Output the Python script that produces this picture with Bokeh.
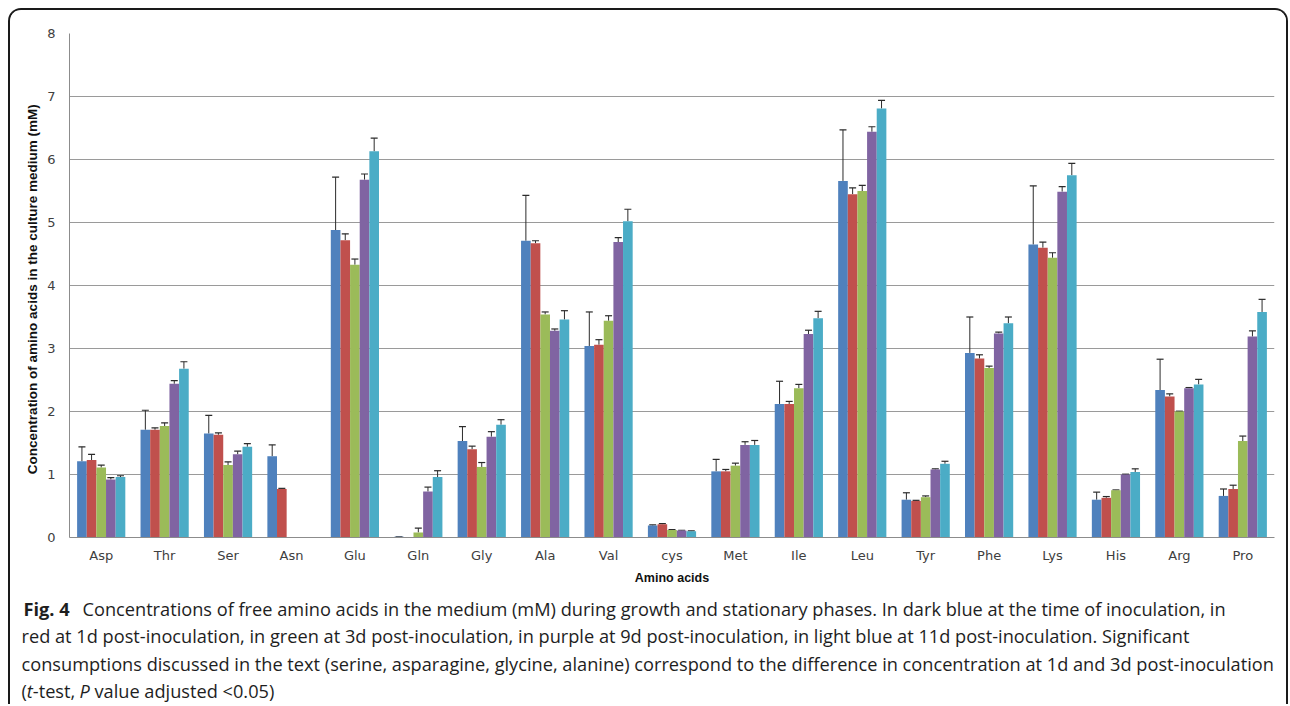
from bokeh.plotting import figure
from bokeh.models import Range1d, FixedTicker, Whisker, ColumnDataSource, TeeHead
from bokeh.layouts import column
from bokeh.embed import file_html
from bokeh.resources import INLINE
from bokeh.core.properties import value

# ---------------- data ----------------
amino_acids = ["Asp", "Thr", "Ser", "Asn", "Glu", "Gln", "Gly", "Ala", "Val", "cys",
               "Met", "Ile", "Leu", "Tyr", "Phe", "Lys", "His", "Arg", "Pro"]
series_names = ["Inoculation", "1d", "3d", "9d", "11d"]
colors = ["#4F81BD", "#C0504D", "#9BBB59", "#8064A2", "#4BACC6"]

inoc = [1.21, 1.71, 1.65, 1.29, 4.88, 0.01, 1.53, 4.71, 3.04, 0.19,
        1.05, 2.12, 5.66, 0.60, 2.93, 4.65, 0.60, 2.34, 0.66]
inoc_err = [0.23, 0.31, 0.29, 0.18, 0.84, 0.00, 0.23, 0.72, 0.54, 0.01,
            0.19, 0.36, 0.81, 0.11, 0.57, 0.93, 0.12, 0.49, 0.11]
d1 = [1.23, 1.71, 1.63, 0.77, 4.72, 0.00, 1.40, 4.67, 3.06, 0.21,
      1.05, 2.12, 5.45, 0.58, 2.84, 4.60, 0.63, 2.24, 0.77]
d1_err = [0.09, 0.03, 0.03, 0.01, 0.10, 0.00, 0.05, 0.04, 0.08, 0.01,
          0.03, 0.04, 0.10, 0.01, 0.06, 0.09, 0.02, 0.04, 0.06]
d3 = [1.11, 1.77, 1.15, 0.00, 4.33, 0.08, 1.12, 3.54, 3.44, 0.12,
      1.14, 2.37, 5.50, 0.64, 2.69, 4.44, 0.75, 2.00, 1.53]
d3_err = [0.04, 0.05, 0.05, 0.00, 0.09, 0.07, 0.07, 0.04, 0.08, 0.005,
          0.04, 0.06, 0.09, 0.02, 0.03, 0.08, 0.005, 0.005, 0.08]
d9 = [0.92, 2.44, 1.32, 0.00, 5.68, 0.73, 1.60, 3.28, 4.69, 0.11,
      1.47, 3.23, 6.44, 1.08, 3.24, 5.49, 1.00, 2.37, 3.19]
d9_err = [0.03, 0.05, 0.05, 0.00, 0.09, 0.07, 0.08, 0.03, 0.07, 0.005,
          0.05, 0.06, 0.08, 0.01, 0.02, 0.08, 0.005, 0.01, 0.09]
d11 = [0.96, 2.68, 1.44, 0.00, 6.13, 0.96, 1.79, 3.46, 5.02, 0.10,
       1.47, 3.48, 6.81, 1.17, 3.40, 5.75, 1.04, 2.43, 3.58]
d11_err = [0.02, 0.11, 0.05, 0.00, 0.21, 0.10, 0.08, 0.14, 0.19, 0.005,
           0.07, 0.11, 0.13, 0.04, 0.10, 0.19, 0.05, 0.08, 0.20]

means = [inoc, d1, d3, d9, d11]
errs = [inoc_err, d1_err, d3_err, d9_err, d11_err]
y_ticks = [0, 1, 2, 3, 4, 5, 6, 7, 8]

caption_lines = [
    "Concentrations of free amino acids in the medium (mM) during growth and stationary phases. In dark blue at the time of inoculation, in",
    "red at 1d post-inoculation, in green at 3d post-inoculation, in purple at 9d post-inoculation, in light blue at 11d post-inoculation. Significant",
    "consumptions discussed in the text (serine, asparagine, glycine, alanine) correspond to the difference in concentration at 1d and 3d post-inoculation",
]

# ---------------- chart ----------------
W = 1276
n = len(amino_acids)
bar_w = 0.152

p = figure(width=W, height=583, output_backend="svg", toolbar_location=None,
           x_range=Range1d(0, n), y_range=Range1d(0, 8),
           min_border_left=59, min_border_right=12, min_border_top=23, min_border_bottom=56)
p.outline_line_color = None
p.background_fill_color = "white"
p.border_fill_color = "white"
p.frame_align = False

centers = [i + 0.5 for i in range(n)]
for j, (vals, er, col) in enumerate(zip(means, errs, colors)):
    xs = [c + (j - 2) * bar_w for c in centers]
    p.vbar(x=xs, top=vals, width=bar_w, bottom=0, fill_color=col, line_color=None)
    wx, wl, wu = [], [], []
    for x, v, e in zip(xs, vals, er):
        if v > 0 or e > 0:
            wx.append(x)
            wl.append(v)
            wu.append(v + e)
    src = ColumnDataSource(dict(x=wx, lower=wl, upper=wu))
    wh = Whisker(base="x", lower="lower", upper="upper", source=src, dimension="height",
                 line_color="#2b2b2b", line_width=1,
                 lower_head=None,
                 upper_head=TeeHead(size=7, line_color="#2b2b2b", line_width=1.2))
    p.add_layout(wh)

p.xaxis.ticker = FixedTicker(ticks=centers)
p.xaxis.major_label_overrides = {c: a for c, a in zip(centers, amino_acids)}
p.yaxis.ticker = FixedTicker(ticks=y_ticks)
p.xgrid.grid_line_color = None
p.ygrid.grid_line_color = "#9a9a9a"
p.ygrid.grid_line_width = 1

for ax in (p.xaxis, p.yaxis):
    ax.axis_line_color = "#8c8c8c"
    ax.axis_line_width = 1
    ax.major_tick_line_color = None
    ax.minor_tick_line_color = None
    ax.major_tick_out = 0
    ax.major_tick_in = 0
    ax.major_label_text_font = "DejaVu Sans"
    ax.major_label_text_font_size = "13px"
    ax.major_label_text_color = "#404040"
    ax.axis_label_text_font = "Liberation Sans"
    ax.axis_label_text_font_style = "bold"
    ax.axis_label_text_color = "#111111"

p.yaxis.major_label_standoff = 14
p.yaxis.axis_label = "Concentration of  amino acids in  the culture medium (mM)"
p.yaxis.axis_label_text_font_size = "13.5px"
p.yaxis.axis_label_standoff = 4
p.xaxis.major_label_standoff = 10
p.xaxis.axis_label = "Amino acids"
p.xaxis.axis_label_text_font_size = "12.5px"
p.xaxis.axis_label_standoff = 5

# ---------------- caption ----------------
CH = 111
cap = figure(width=W, height=CH, output_backend="svg", toolbar_location=None,
             x_range=Range1d(0, W), y_range=Range1d(CH, 0),
             x_axis_type=None, y_axis_type=None,
             min_border=0, min_border_left=0, min_border_right=0,
             min_border_top=0, min_border_bottom=0)
cap.grid.visible = False
cap.outline_line_color = None
cap.frame_align = False

font = value("Open Sans")
fs = "18.2px"
tc = "#1e1e1e"
base = [15, 42.5, 70, 97.5]
x0 = 11

cap.text(x=[x0 + 2], y=[base[0]], text=["Fig. 4"], text_font=font, text_font_size=fs,
         text_font_style="bold", text_color=tc, text_baseline="alphabetic")
cap.text(x=[72], y=[base[0]], text=[caption_lines[0]], text_font=font, text_font_size=fs,
         text_color=tc, text_baseline="alphabetic")
cap.text(x=[x0, x0], y=[base[1], base[2]], text=[caption_lines[1], caption_lines[2]],
         text_font=font, text_font_size=fs, text_color=tc, text_baseline="alphabetic")

parts = ["(", "t", "-test,", "P", "value adjusted <0.05)"]
offs = [0, 5.3, 11.3, 58.0, 73.0]
styles = ["normal", "italic", "normal", "italic", "normal"]
for t, o, s in zip(parts, offs, styles):
    cap.text(x=[x0 + o], y=[base[3]], text=[t], text_font=font, text_font_size=fs,
             text_font_style=s, text_color=tc, text_baseline="alphabetic")

layout = column(p, cap, styles={"margin-left": "8px",
                                "margin-top": "8px",
                                "border-top": "2px solid #1a1a1a",
                                "border-left": "2px solid #1a1a1a",
                                "border-right": "2px solid #1a1a1a",
                                "border-radius": "13px 13px 0 0",
                                "overflow": "hidden"})

open("out.html", "w").write(file_html(layout, INLINE))
